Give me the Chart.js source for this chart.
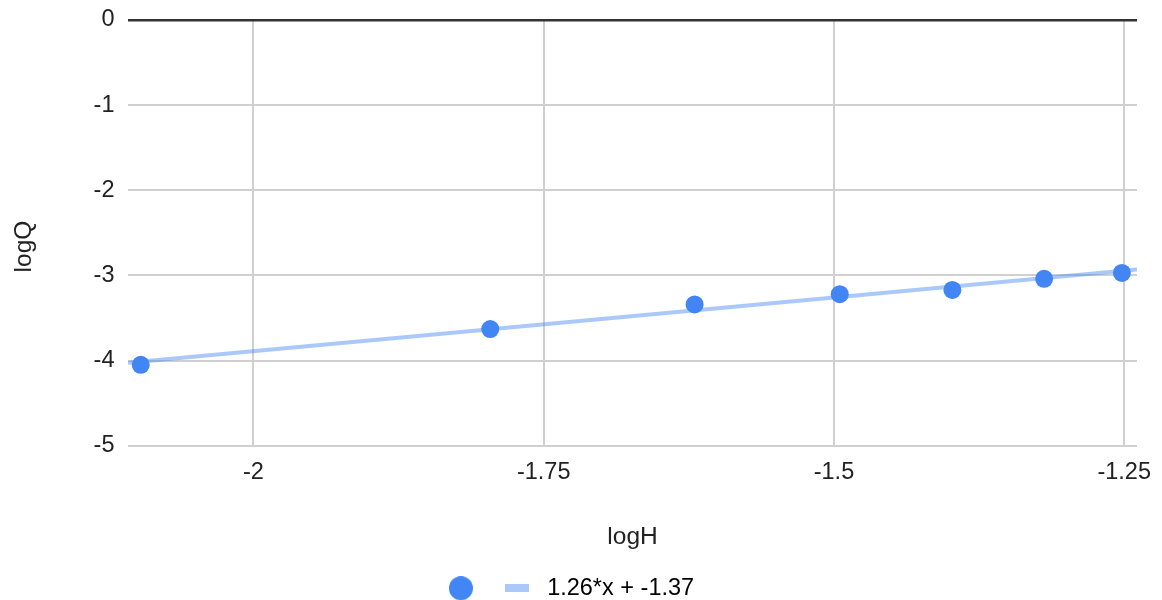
<!DOCTYPE html>
<html>
<head>
<meta charset="utf-8">
<title>logQ vs logH</title>
<script src="https://cdn.jsdelivr.net/npm/chart.js@4.4.1/dist/chart.umd.min.js"></script>
<style>
  html, body { margin: 0; padding: 0; background: #ffffff; }
  #wrap { width: 1162px; height: 600px; position: relative; }
</style>
</head>
<body>
<div id="wrap"><canvas id="chart"></canvas></div>
<script>
// Measured points
const logH = [-2.097, -1.796, -1.620, -1.495, -1.398, -1.319, -1.252];
const logQ = [-4.05, -3.63, -3.34, -3.22, -3.17, -3.04, -2.97];

// Linear trendline y = slope * x + intercept
const slope = 1.26;
const intercept = -1.37;
const trendLabel = '1.26*x + -1.37';

// Axes
const xMin = -2.108;
const xMax = -1.239;
const xTickValues = [-2, -1.75, -1.5, -1.25];
const xTickLabels = ['-2', '-1.75', '-1.5', '-1.25'];
const yMin = -5;
const yMax = 0;
const xTitle = 'logH';
const yTitle = 'logQ';

const pointColor = '#4285f4';
const trendColor = 'rgba(66, 133, 244, 0.45)';
const textColor = '#222222';
const fontFamily = '"Liberation Sans", Arial, Helvetica, sans-serif';
const tickFont = 23.5;
const titleFont = 24.5;

Chart.defaults.font.family = fontFamily;
Chart.defaults.color = textColor;

const points = logH.map((x, i) => ({ x: x, y: logQ[i] }));
const trendPoints = [xMin, xMax].map(x => ({ x: x, y: slope * x + intercept }));

// Legend symbols
function makeDotIcon() {
  const c = document.createElement('canvas');
  c.width = 24; c.height = 24;
  const g = c.getContext('2d');
  g.fillStyle = pointColor;
  g.beginPath();
  g.arc(12, 12, 12, 0, Math.PI * 2);
  g.fill();
  return c;
}
function makeLineIcon() {
  const c = document.createElement('canvas');
  c.width = 24; c.height = 8;
  const g = c.getContext('2d');
  g.fillStyle = trendColor;
  g.fillRect(0, 0, 24, 8);
  return c;
}
const dotIcon = makeDotIcon();
const lineIcon = makeLineIcon();

// Rotated y-axis title
const yTitlePlugin = {
  id: 'yTitle',
  afterDraw(chart) {
    const ctx = chart.ctx;
    ctx.save();
    ctx.translate(24, 246.5);
    ctx.rotate(-Math.PI / 2);
    ctx.font = titleFont + 'px ' + fontFamily;
    ctx.fillStyle = textColor;
    ctx.textAlign = 'center';
    ctx.textBaseline = 'middle';
    ctx.fillText(yTitle, 0, 0);
    ctx.restore();
  }
};

new Chart(document.getElementById('chart'), {
  type: 'scatter',
  data: {
    datasets: [
      {
        label: '',
        data: points,
        backgroundColor: pointColor,
        borderColor: pointColor,
        pointRadius: 9,
        pointBorderWidth: 0,
        order: 1
      },
      {
        label: trendLabel,
        data: trendPoints,
        showLine: true,
        borderColor: trendColor,
        borderWidth: 4,
        pointRadius: 0,
        fill: false,
        order: 0
      }
    ]
  },
  options: {
    responsive: true,
    maintainAspectRatio: false,
    animation: false,
    layout: { padding: { top: 20, right: 25, left: 0, bottom: -10 } },
    plugins: {
      tooltip: { enabled: false },
      legend: {
        position: 'bottom',
        align: 'center',
        labels: {
          usePointStyle: true,
          pointStyleWidth: 36,
          padding: 8.75,
          font: { size: tickFont },
          color: textColor,
          generateLabels: () => [
            { text: '', pointStyle: dotIcon, fillStyle: pointColor, strokeStyle: pointColor, lineWidth: 0, datasetIndex: 0, hidden: false },
            { text: trendLabel, pointStyle: lineIcon, fillStyle: trendColor, strokeStyle: trendColor, lineWidth: 0, datasetIndex: 1, hidden: false }
          ]
        }
      }
    },
    scales: {
      x: {
        type: 'linear',
        min: xMin,
        max: xMax,
        afterBuildTicks: (scale) => { scale.ticks = xTickValues.map(v => ({ value: v })); },
        afterFit: (scale) => {
          scale.height = 122;
          scale.paddingLeft = 0;
          scale.paddingRight = 0;
        },
        ticks: {
          padding: 13,
          font: { size: tickFont },
          color: textColor,
          maxRotation: 0,
          autoSkip: false,
          callback: (v, i) => xTickLabels[i]
        },
        grid: { color: '#d0d0d0', lineWidth: 2, drawTicks: false },
        border: { display: false },
        title: {
          display: true,
          text: xTitle,
          font: { size: titleFont },
          color: textColor,
          padding: { top: 0, bottom: 16 }
        }
      },
      y: {
        type: 'linear',
        min: yMin,
        max: yMax,
        afterFit: (scale) => {
          scale.width = 128;
          scale.paddingTop = 0;
          scale.paddingBottom = 0;
        },
        ticks: {
          stepSize: 1,
          padding: 13.5,
          font: { size: tickFont },
          color: textColor
        },
        grid: {
          drawTicks: false,
          color: (c) => (c.tick && c.tick.value === 0 ? '#333333' : '#d0d0d0'),
          lineWidth: (c) => (c.tick && c.tick.value === 0 ? 2.5 : 2)
        },
        border: { display: false }
      }
    }
  },
  plugins: [yTitlePlugin]
});
</script>
</body>
</html>
